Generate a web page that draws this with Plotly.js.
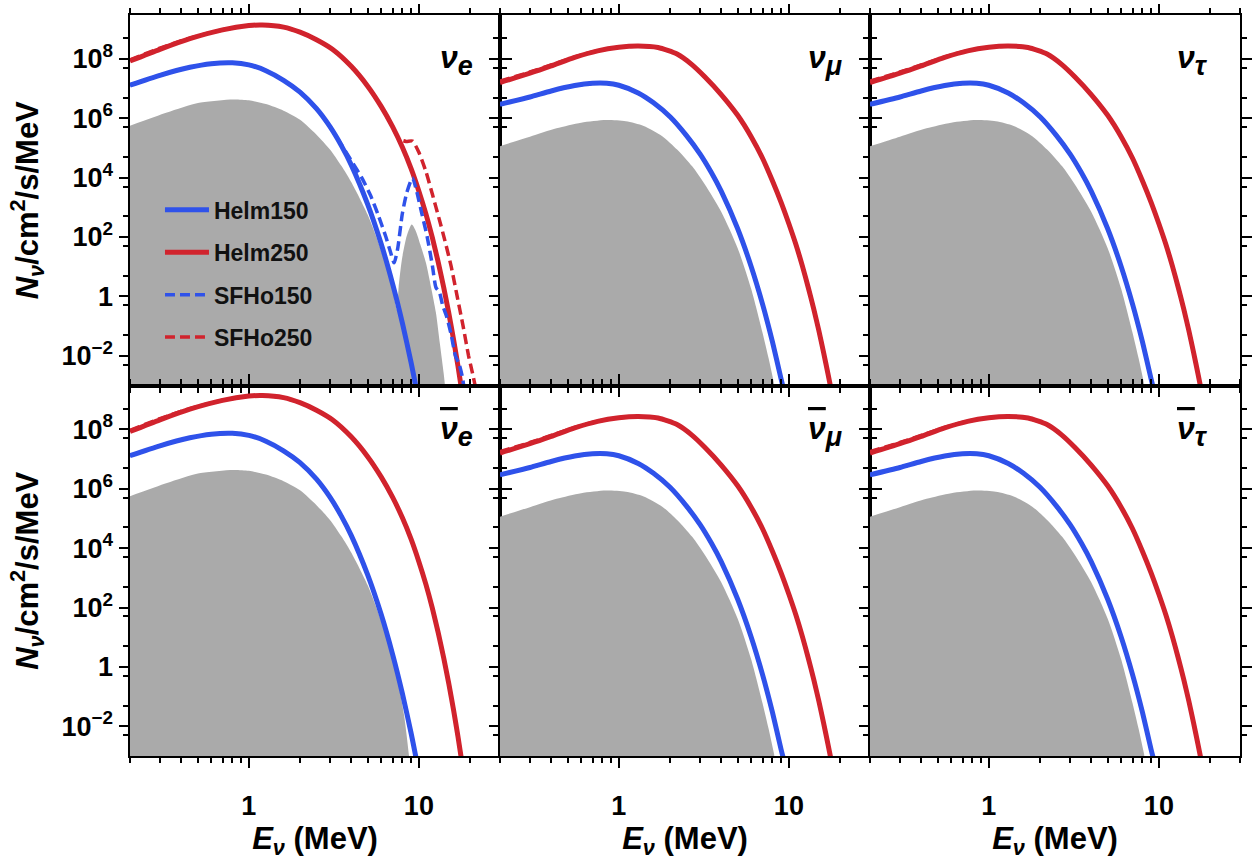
<!DOCTYPE html>
<html>
<head>
<meta charset="utf-8">
<script src="https://cdn.plot.ly/plotly-3.0.1.min.js"></script>
<style>html,body{margin:0;padding:0;background:#fff}#chart{width:1255px;height:867px}</style>
</head>
<body>
<div id="chart"></div>
<script>
// ---------------- DATA ----------------
// Energies in MeV, fluxes in /cm^2/s/MeV

// nu_e panel
const nue_E_helm150 = [0.2, 0.3, 0.45, 0.6, 0.8, 1.0, 1.26, 1.6, 2.0, 2.5, 3.0, 3.5, 4.0, 5.0, 6.0, 7.0, 8.0, 9.0, 9.6];
const nue_N_helm150 = [1.3e7, 2.8e7, 5.2e7, 6.9e7, 7.4e7, 6.3e7, 4.0e7, 1.9e7, 7.6e6, 2.1e6, 5.2e5, 1.2e5, 2.7e4, 1.26e3, 59, 2.7, 0.126, 5.9e-3, 9.3e-4];

const nue_E_helm250 = [0.2, 0.3, 0.45, 0.7, 1.0, 1.2, 1.6, 2.0, 2.5, 3.1, 4.0, 5.0, 6.0, 7.0, 8.0, 9.0, 10.0, 11.0, 12.0, 13.0, 14.0, 15.0, 16.0, 17.0, 17.7];
const nue_N_helm250 = [8.5e7, 2.1e8, 4.8e8, 9.5e8, 1.32e9, 1.38e9, 1.17e9, 7.9e8, 4.4e8, 2.1e8, 5.6e7, 1.2e7, 2.5e6, 5.2e5, 1.05e5, 2.0e4, 3.5e3, 600, 95, 14, 2.0, 0.27, 0.035, 4.3e-3, 9.5e-4];

const nue_E_sfho150 = [0.2, 0.3, 0.45, 0.6, 0.8, 1.0, 1.26, 1.6, 2.0, 2.5, 3.0, 3.5, 4.1, 4.61, 5.2, 5.8, 6.4, 6.8, 7.15, 7.5, 8.0, 8.5, 9.17, 9.7, 10.4, 11.2, 12.0, 12.6, 13.2, 13.8, 14.6, 15.5, 16.4, 17.3, 18.0, 18.4];
const nue_N_sfho150 = [1.3e7, 2.8e7, 5.2e7, 6.9e7, 7.4e7, 6.3e7, 4.0e7, 1.9e7, 7.6e6, 2.1e6, 5.2e5, 1.3e5, 3.0e4, 1.0e4, 2.5e3, 500, 100, 32, 13.5, 40, 630, 3.2e3, 9.8e3, 3.5e3, 630, 100, 11.2, 2.0, 1.4, 0.5, 0.2, 0.05, 0.01, 5e-3, 2e-3, 9e-4];

const nue_E_sfho250 = [0.2, 0.3, 0.45, 0.7, 1.0, 1.2, 1.6, 2.0, 2.5, 3.1, 4.0, 5.0, 6.0, 7.0, 7.66, 8.4, 9.17, 10.0, 11.0, 12.0, 13.1, 14.2, 15.5, 16.8, 18.2, 19.6, 20.7, 21.5];
const nue_N_sfho250 = [9.3e7, 2.3e8, 5.0e8, 9.5e8, 1.32e9, 1.38e9, 1.17e9, 7.9e8, 4.4e8, 2.1e8, 5.6e7, 1.2e7, 2.5e6, 5.2e5, 2.0e5, 1.66e5, 1.7e5, 7.1e4, 1.6e4, 2.8e3, 450, 79, 10, 1.0, 0.1, 0.01, 2.5e-3, 9e-4];

const nue_E_grey = [0.2, 0.33, 0.51, 0.81, 1.0, 1.26, 1.6, 2.0, 2.5, 3.0, 3.5, 4.0, 5.0, 6.0, 7.0, 7.3, 7.45, 7.6, 7.8, 8.0, 8.5, 9.08, 9.6, 10.2, 11.0, 11.8, 12.6, 13.3, 14.0, 14.3];
const nue_N_grey = [5.6e5, 1.55e6, 3.3e6, 4.3e6, 4.0e6, 3.0e6, 1.8e6, 8.9e5, 2.8e5, 8.9e4, 2.5e4, 7.1e3, 560, 35, 1.8, 0.5, 0.35, 2.0, 7.9, 22, 112, 263, 158, 56, 13.5, 2.0, 0.28, 0.025, 2.5e-3, 8e-4];

// anti-nu_e panel (Helm curves as for nu_e)
const nuebar_E_sfho250 = [0.2, 0.3, 0.45, 0.7, 1.0, 1.2, 1.6, 2.0, 2.5, 3.1, 4.0, 5.0, 6.0, 7.0, 8.0, 9.0, 10.0, 11.0, 12.0, 13.0, 14.0, 15.0, 16.0, 17.0, 17.7];
const nuebar_N_sfho250 = [9.3e7, 2.3e8, 5.0e8, 9.5e8, 1.32e9, 1.38e9, 1.17e9, 7.9e8, 4.4e8, 2.1e8, 5.6e7, 1.2e7, 2.5e6, 5.2e5, 1.05e5, 2.0e4, 3.5e3, 600, 95, 14, 2.0, 0.27, 0.035, 4.3e-3, 9.5e-4];
const nuebar_E_grey = [0.2, 0.33, 0.51, 0.81, 1.0, 1.26, 1.6, 2.0, 2.5, 3.0, 3.5, 4.0, 5.0, 6.0, 7.0, 7.6, 8.2, 8.75];
const nuebar_N_grey = [5.6e5, 1.55e6, 3.3e6, 4.3e6, 4.0e6, 3.0e6, 1.8e6, 8.9e5, 2.8e5, 8.9e4, 2.5e4, 7.1e3, 560, 35, 1.8, 0.25, 0.022, 1.0e-3];

// heavy-lepton flavour panels (nu_mu, nu_tau and their antiparticles)
const nux_E_helm150 = [0.2, 0.3, 0.4, 0.55, 0.7, 0.85, 1.0, 1.3, 1.6, 2.0, 2.5, 3.0, 3.5, 4.0, 5.0, 6.0, 7.0, 8.0, 9.0, 9.3];
const nux_N_helm150 = [2.95e6, 5.2e6, 8.3e6, 1.26e7, 1.51e7, 1.51e7, 1.29e7, 7.1e6, 3.3e6, 1.12e6, 2.6e5, 6.3e4, 1.48e4, 3.5e3, 190, 10.2, 0.55, 0.03, 1.66e-3, 7.9e-4];
const nux_E_helm250 = [0.2, 0.3, 0.4, 0.55, 0.75, 1.0, 1.3, 1.7, 2.2, 2.7, 3.2, 4.0, 5.0, 6.0, 7.0, 8.0, 9.0, 10.0, 11.0, 12.0, 13.0, 14.0, 15.0, 16.0, 17.0, 17.6];
const nux_N_helm250 = [1.6e7, 3.3e7, 5.8e7, 1.12e8, 1.86e8, 2.45e8, 2.7e8, 2.4e8, 1.45e8, 6.3e7, 2.5e7, 6.3e6, 1.26e6, 2.4e5, 4.5e4, 7.9e3, 1.48e3, 280, 56, 10.7, 2.0, 0.38, 0.071, 0.013, 2.4e-3, 8.9e-4];
const nux_N_sfho250 = [1.78e7, 3.6e7, 6.2e7, 1.17e8, 1.88e8, 2.45e8, 2.7e8, 2.4e8, 1.45e8, 6.3e7, 2.5e7, 6.3e6, 1.26e6, 2.4e5, 4.5e4, 7.9e3, 1.48e3, 280, 56, 10.7, 2.0, 0.38, 0.071, 0.013, 2.4e-3, 8.9e-4];
const nux_E_grey = [0.2, 0.3, 0.43, 0.6, 0.84, 1.1, 1.4, 1.8, 2.2, 2.7, 3.2, 4.0, 5.0, 6.0, 7.0, 7.6, 8.2];
const nux_N_grey = [1.15e5, 2.4e5, 4.6e5, 7.1e5, 8.7e5, 7.9e5, 5.5e5, 2.5e5, 8.9e4, 2.4e4, 6.0e3, 710, 42, 1.8, 0.06, 8.3e-3, 1.1e-3];

// axis ticks and labels
const xTickVals = [1, 10];
const xTickText = ['1', '10'];
const xMinorVals = [0.2, 0.3, 0.4, 0.5, 0.6, 0.7, 0.8, 0.9, 2, 3, 4, 5, 6, 7, 8, 9, 20, 30];
const yLabelVals = [1e-2, 1, 1e2, 1e4, 1e6, 1e8];
const yLabelText = ['10<sup>\u22122</sup>', '1', '10<sup>2</sup>', '10<sup>4</sup>', '10<sup>6</sup>', '10<sup>8</sup>'];
const yOddVals = [1e-3, 1e-1, 1e1, 1e3, 1e5, 1e7, 1e9];
const yAllVals = [1e-3, 1e-2, 1e-1, 1, 1e1, 1e2, 1e3, 1e4, 1e5, 1e6, 1e7, 1e8, 1e9];
const yMinorVals = [5e-3, 5e-2, 0.5, 5, 50, 500, 5e3, 5e4, 5e5, 5e6, 5e7, 5e8];
const seriesNames = ['Helm150', 'Helm250', 'SFHo150', 'SFHo250'];
const panelFlavour = ['\u03bd', '\u03bd', '\u03bd', '\u03bd', '\u03bd', '\u03bd'];
const panelIndex = ['e', '\u03bc', '\u03c4', 'e', '\u03bc', '\u03c4'];

// ---------------- STYLE ----------------
const FONT = 'Liberation Sans, Arial, Helvetica, sans-serif';
const BLUE = '#2f52ea', RED = '#d1232d', GREY = '#aaaaaa';
const labelPaperX = [0.2775, 0.609, 0.9414];
const labelPaperY = [0.939, 0.439];

const panels = [
  {grey: [nue_E_grey, nue_N_grey], h150: [nue_E_helm150, nue_N_helm150], h250: [nue_E_helm250, nue_N_helm250],
   s150: [nue_E_sfho150, nue_N_sfho150], s250: [nue_E_sfho250, nue_N_sfho250], bar: false},
  {grey: [nux_E_grey, nux_N_grey], h150: [nux_E_helm150, nux_N_helm150], h250: [nux_E_helm250, nux_N_helm250],
   s150: [nux_E_helm150, nux_N_helm150], s250: [nux_E_helm250, nux_N_sfho250], bar: false},
  {grey: [nux_E_grey, nux_N_grey], h150: [nux_E_helm150, nux_N_helm150], h250: [nux_E_helm250, nux_N_helm250],
   s150: [nux_E_helm150, nux_N_helm150], s250: [nux_E_helm250, nux_N_sfho250], bar: false},
  {grey: [nuebar_E_grey, nuebar_N_grey], h150: [nue_E_helm150, nue_N_helm150], h250: [nue_E_helm250, nue_N_helm250],
   s150: [nue_E_helm150, nue_N_helm150], s250: [nuebar_E_sfho250, nuebar_N_sfho250], bar: true},
  {grey: [nux_E_grey, nux_N_grey], h150: [nux_E_helm150, nux_N_helm150], h250: [nux_E_helm250, nux_N_helm250],
   s150: [nux_E_helm150, nux_N_helm150], s250: [nux_E_helm250, nux_N_sfho250], bar: true},
  {grey: [nux_E_grey, nux_N_grey], h150: [nux_E_helm150, nux_N_helm150], h250: [nux_E_helm250, nux_N_helm250],
   s150: [nux_E_helm150, nux_N_helm150], s250: [nux_E_helm250, nux_N_sfho250], bar: true}
];

const traces = [];
const layout = {
  width: 1255, height: 867,
  margin: {l: 130, r: 15, t: 15, b: 111},
  paper_bgcolor: '#fff', plot_bgcolor: 'rgba(0,0,0,0)',
  showlegend: true,
  legend: {x: 0.027, y: 0.766, xanchor: 'left', yanchor: 'top', bgcolor: 'rgba(0,0,0,0)', itemwidth: 44,
           font: {family: FONT, size: 23, color: '#111', weight: 'bold'}, tracegroupgap: 9.5, traceorder: 'grouped'},
  font: {family: FONT, color: '#000'},
  annotations: []
};

const xRange = [Math.log10(0.2), Math.log10(30)];
const yRange = [Math.log10(1e-3), Math.log10(3e9)];
const tickFont = {family: FONT, size: 27, color: '#000', weight: 'bold'};
const titleFont = {family: FONT, size: 31, weight: 'bold', color: '#000'};
const tk = {tickwidth: 2, tickcolor: '#000', showgrid: false, zeroline: false};

panels.forEach((p, k) => {
  const s = k === 0 ? '' : String(k + 1);
  const col = k % 3, row = Math.floor(k / 3);
  const xa = 'x' + s, ya = 'y' + s;

  layout['xaxis' + s] = Object.assign({
    type: 'log', range: xRange, autorange: false, domain: [col / 3, (col + 1) / 3], anchor: ya,
    showline: true, linewidth: 2, linecolor: '#000', mirror: 'allticks',
    ticks: 'outside', ticklen: 9.5,
    tickmode: 'array', tickvals: xTickVals, ticktext: xTickText,
    showticklabels: row === 1, tickfont: tickFont, ticklabelstandoff: 15,
    minor: {tickmode: 'array', tickvals: xMinorVals, ticks: 'outside', ticklen: 5, tickwidth: 2, tickcolor: '#000'}
  }, tk);
  if (row === 1) layout['xaxis' + s].title = {text: '<i>E</i><sub><i>\u03bd</i></sub> (MeV)', font: titleFont, standoff: 5};

  layout['xaxis' + (k + 7)] = Object.assign({
    type: 'log', range: xRange, autorange: false, overlaying: xa, anchor: ya,
    showline: false, mirror: 'allticks', ticks: 'inside', ticklen: 9.5,
    tickmode: 'array', tickvals: xTickVals, showticklabels: false,
    minor: {tickmode: 'array', tickvals: xMinorVals, ticks: 'inside', ticklen: 5, tickwidth: 2, tickcolor: '#000'}
  }, tk);

  layout['yaxis' + s] = Object.assign({
    type: 'log', range: yRange, autorange: false, domain: row === 0 ? [0.5, 1] : [0, 0.5], anchor: xa,
    showline: true, linewidth: 2, linecolor: '#000', mirror: 'allticks',
    ticks: 'outside', ticklen: 9.5,
    tickmode: 'array', tickvals: yLabelVals, ticktext: yLabelText,
    showticklabels: col === 0, tickfont: tickFont,
    minor: {tickmode: 'array', tickvals: yMinorVals, ticks: 'outside', ticklen: 5, tickwidth: 2, tickcolor: '#000'}
  }, tk);
  if (col === 0) layout['yaxis' + s].title = {text: '<i>N</i><sub><i>\u03bd</i></sub>/cm<sup>2</sup>/s/MeV', font: titleFont, standoff: 14};

  layout['yaxis' + (k + 7)] = Object.assign({
    type: 'log', range: yRange, autorange: false, overlaying: ya, anchor: xa,
    showline: false, mirror: 'allticks', ticks: 'inside', ticklen: 9.5,
    tickmode: 'array', tickvals: yAllVals, showticklabels: false,
    minor: {tickmode: 'array', tickvals: yMinorVals, ticks: 'inside', ticklen: 5, tickwidth: 2, tickcolor: '#000'}
  }, tk);
  layout['yaxis' + (k + 13)] = Object.assign({
    type: 'log', range: yRange, autorange: false, overlaying: ya, anchor: xa,
    showline: false, mirror: 'allticks', ticks: 'outside', ticklen: 9.5,
    tickmode: 'array', tickvals: yOddVals, showticklabels: false
  }, tk);

  // grey region
  traces.push({x: p.grey[0], y: p.grey[1], xaxis: xa, yaxis: ya, type: 'scatter', mode: 'lines',
    fill: 'tozeroy', fillcolor: GREY, line: {width: 0, color: GREY, shape: 'spline', smoothing: 0.7},
    showlegend: false, hoverinfo: 'skip'});
  const defs = [
    [p.h150, BLUE, 'solid', 5],
    [p.h250, RED, 'solid', 5],
    [p.s150, BLUE, '10px,5px', 3.5],
    [p.s250, RED, '10px,5px', 3.5]
  ];
  defs.forEach((d, j) => {
    traces.push({x: d[0][0], y: d[0][1], xaxis: xa, yaxis: ya, type: 'scatter', mode: 'lines',
      name: seriesNames[j], legendgroup: seriesNames[j], showlegend: k === 0,
      line: {color: d[1], dash: d[2], width: d[3], shape: 'spline', smoothing: 0.6}});
  });

  // panel label
  const nu = p.bar ? '<span style="text-decoration:overline">' + panelFlavour[k] + '</span>' : panelFlavour[k];
  layout.annotations.push({
    xref: 'paper', yref: 'paper', x: labelPaperX[col], y: labelPaperY[row], xanchor: 'left', yanchor: 'middle', align: 'left',
    text: '<b><i>' + nu + '<sub><span style="font-size:27px">' + panelIndex[k] + '</span></sub></i></b>', showarrow: false,
    font: {family: FONT, size: 32, color: '#000'}
  });
});

Plotly.newPlot('chart', traces, layout, {displayModeBar: false, staticPlot: true});
</script>
</body>
</html>
